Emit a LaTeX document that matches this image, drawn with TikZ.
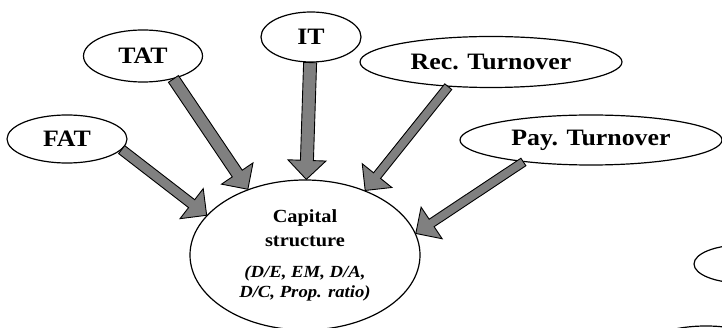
\documentclass[tikz,border=0pt]{standalone}
\usepackage{fontspec}
\setmainfont{Liberation Serif}[FakeStretch=1.1]
\usetikzlibrary{shapes.geometric,calc}
\definecolor{arrowgray}{RGB}{128,128,128}
\tikzset{
  oval/.style={draw=black, line width=1.2pt, ellipse, inner sep=0pt, fill=white,
    font=\fontsize{23.5}{28}\selectfont\bfseries},
  fatarrowstyle/.style={draw=black, line width=0.9pt, fill=arrowgray, line join=miter}
}
\newcommand\fatarrow[3]{%
  \path (#1) coordinate (as) (#2) coordinate (ae);
  \path ($(ae)!19pt!(as)$) coordinate (ah);
  \draw[fatarrowstyle] ($(as)!#3!90:(ae)$) -- ($(ah)!#3!-90:(as)$) -- ($(ah)!19pt!-90:(as)$) -- (ae)
    -- ($(ah)!19pt!90:(as)$) -- ($(ah)!#3!90:(as)$) -- ($(as)!#3!-90:(ae)$) -- cycle;
}
\begin{document}
\begin{tikzpicture}[x=1pt,y=-1pt]
\useasboundingbox (0,0) rectangle (722,328);
\clip (0,0) rectangle (722,328);
\fill[white] (0,0) rectangle (722,328);
% partial shapes cut by the right and bottom edges
\draw[line width=1.2pt] (742,264) ellipse [x radius=48, y radius=19];
\draw[line width=1.2pt] (706,347) ellipse [x radius=60, y radius=21];
% nodes
\node[oval, minimum width=120, minimum height=48] (fat) at (67,139) {FAT};
\node[oval, minimum width=119, minimum height=52] (tat) at (143,56) {TAT};
\node[oval, minimum width=100, minimum height=50] (it) at (311,37) {IT};
\node[oval, minimum width=262, minimum height=51] (rec) at (491,62) {Rec. Turnover};
\node[oval, minimum width=262, minimum height=50] (pay) at (591,140) {Pay. Turnover};
\node[oval, minimum width=230, minimum height=150, align=center,
  font=\fontsize{18.5}{22}\selectfont\bfseries] (cap) at (305,255)
  {Capital\\[2pt]structure\\[9pt]{\fontsize{17}{22}\selectfont\textit{(D/E, EM, D/A,}}\\[-2pt]{\fontsize{17}{22}\selectfont\textit{D/C, Prop. ratio)}}};
% arrows
\fatarrow{fat.-11}{cap.158}{5pt}
\fatarrow{tat.-37}{cap.131}{6pt}
\fatarrow{it.-92}{cap.89}{6.5pt}
\fatarrow{rec.-150}{cap.47}{4.5pt}
\fatarrow{pay.-162}{cap.11}{4.5pt}
\end{tikzpicture}
\end{document}
